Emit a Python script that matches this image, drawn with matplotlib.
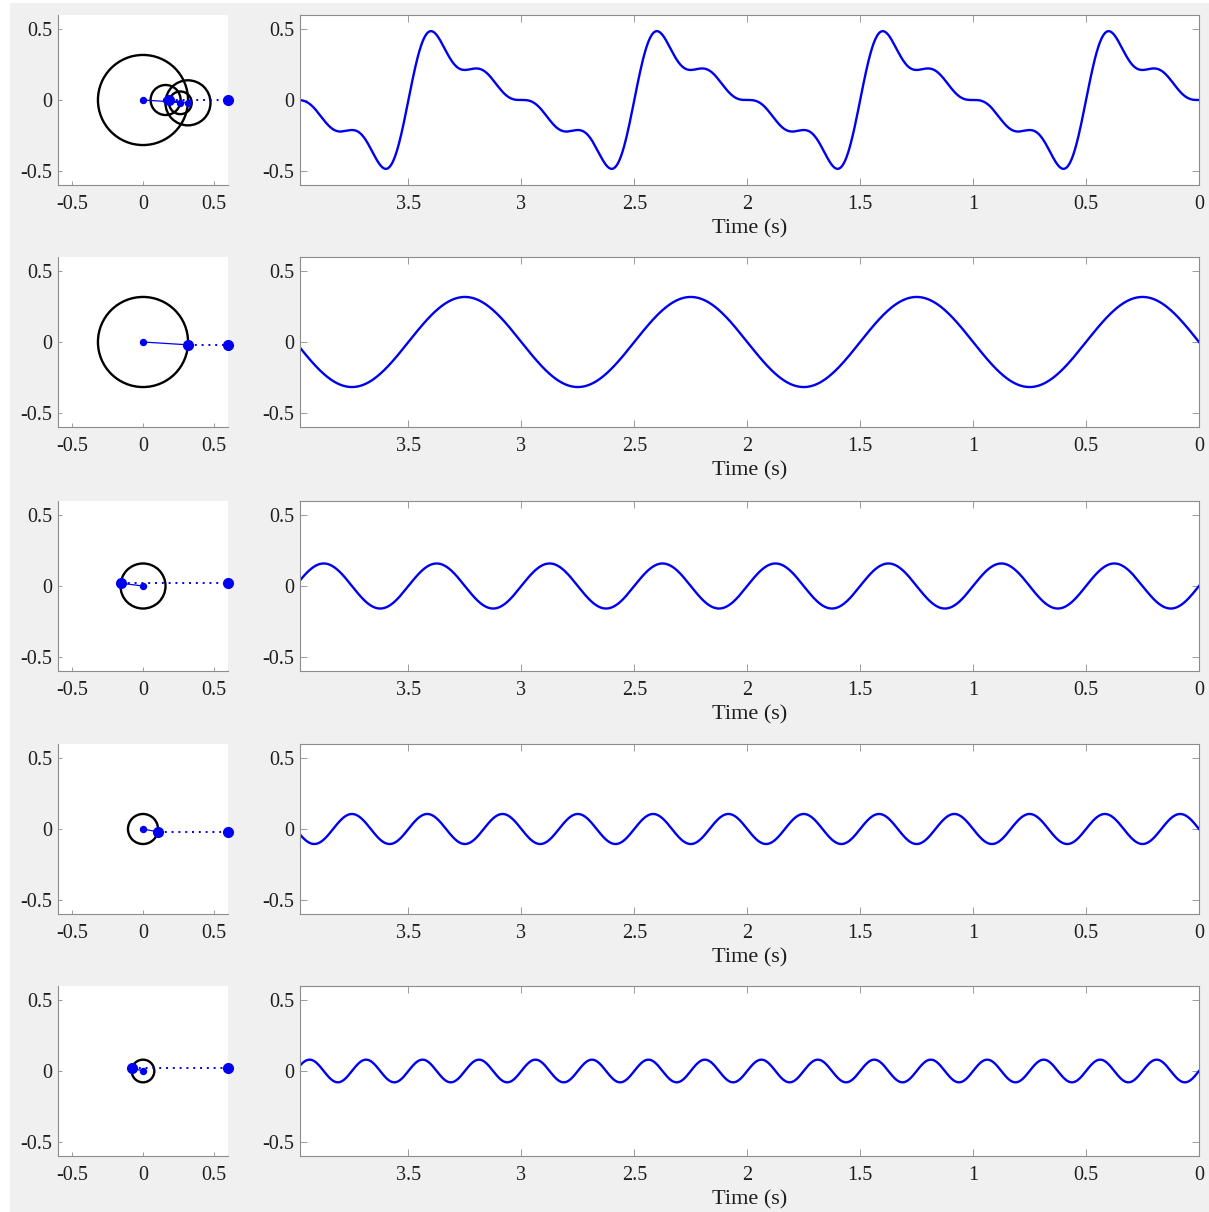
import numpy as np
import matplotlib
matplotlib.use("Agg")
import matplotlib.pyplot as plt
from matplotlib.patches import Circle, Rectangle

# ---------------- data ----------------
harmonic_numbers = [1, 2, 3, 4]            # frequency of each component (Hz)
amplitudes = [0.318, 0.159, 0.106, 0.080]  # radius of each circle / wave amplitude
signs = [1, -1, 1, -1]                     # phase sign of each component
snapshot_time = -0.01                      # instant drawn in the circle panels
time_range = [0.0, 3.98]                   # time axis span (s), shown reversed
time_ticks = [0, 0.5, 1, 1.5, 2, 2.5, 3, 3.5]
time_tick_labels = ["0", "0.5", "1", "1.5", "2", "2.5", "3", "3.5"]
value_ticks = [-0.5, 0, 0.5]
value_tick_labels = ["-0.5", "0", "0.5"]
probe_x = 0.6                              # x where the output point sits

# ---------------- style ----------------
W, H = 1209, 1212
DPI = 100
BG = "#f0f0f0"
SPINE = "#8c8c8c"
TXT = "#1e1e1e"
BLUE = "#0000f0"
plt.rcParams["font.family"] = ["Liberation Serif", "DejaVu Serif"]

fig = plt.figure(figsize=(W / DPI, H / DPI), dpi=DPI, facecolor="white")
fig.patches.append(Rectangle((10 / W, 0), 1 - 10 / W, 1 - 3 / H,
                             transform=fig.transFigure, facecolor=BG,
                             edgecolor="none", zorder=-10))

tops = [15, 257, 501, 744, 986]
AX_H = 170
LEFT_X, LEFT_W = 58, 170
RIGHT_X, RIGHT_W = 300, 899
TICK_FS = 14.5
LABEL_FS = 16

t = np.linspace(time_range[0], time_range[1], 2000)


def phasors(idx_list, tt):
    pts = [(0.0, 0.0)]
    x, y = 0.0, 0.0
    for i in idx_list:
        ang = 2 * np.pi * harmonic_numbers[i] * tt
        x += signs[i] * amplitudes[i] * np.cos(ang)
        y += signs[i] * amplitudes[i] * np.sin(ang)
        pts.append((x, y))
    return pts


rows = [list(range(len(amplitudes)))] + [[i] for i in range(len(amplitudes))]

for r, comps in enumerate(rows):
    top = tops[r]
    bottom = 1 - (top + AX_H) / H
    # ---------- left: circles ----------
    axl = fig.add_axes([LEFT_X / W, bottom, LEFT_W / W, AX_H / H])
    axl.set_facecolor("white")
    pts = phasors(comps, snapshot_time)
    for k, i in enumerate(comps):
        c = Circle(pts[k], amplitudes[i], fill=False, edgecolor="black",
                   lw=1.7, zorder=2)
        axl.add_patch(c)
    xs = [p[0] for p in pts]
    ys = [p[1] for p in pts]
    axl.plot(xs, ys, color=BLUE, lw=0.9, zorder=3)
    axl.plot(xs[:-1], ys[:-1], "o", color=BLUE, ms=4.3, mec=BLUE, zorder=4)
    axl.plot([xs[-1], probe_x], [ys[-1], ys[-1]], color=BLUE, lw=1.4,
             linestyle=(0, (1, 2.5)), zorder=3)
    axl.plot([xs[-1], probe_x], [ys[-1], ys[-1]], "o", color=BLUE,
             ms=7.0, mec=BLUE, zorder=5, clip_on=False)
    axl.set_xlim(-0.6, 0.6)
    axl.set_ylim(-0.6, 0.6)
    axl.set_xticks(value_ticks)
    axl.set_xticklabels(value_tick_labels)
    axl.set_yticks(value_ticks)
    axl.set_yticklabels(value_tick_labels)
    for s in ["top", "right"]:
        axl.spines[s].set_visible(False)
    for s in ["left", "bottom"]:
        axl.spines[s].set_color(SPINE)
        axl.spines[s].set_linewidth(0.8)
    axl.tick_params(direction="in", length=3, width=0.6, color=SPINE,
                    labelsize=TICK_FS, labelcolor=TXT)
    axl.tick_params(axis="x", pad=7)
    axl.tick_params(axis="y", pad=4)

    # ---------- right: time signal ----------
    axr = fig.add_axes([RIGHT_X / W, bottom, RIGHT_W / W, AX_H / H])
    axr.set_facecolor("white")
    y = np.zeros_like(t)
    for i in comps:
        y += signs[i] * amplitudes[i] * np.sin(2 * np.pi * harmonic_numbers[i] * t)
    axr.plot(t, y, color=BLUE, lw=1.7)
    axr.set_xlim(time_range[1], time_range[0])
    axr.set_ylim(-0.6, 0.6)
    axr.set_xticks(time_ticks)
    axr.set_xticklabels(time_tick_labels)
    axr.set_yticks(value_ticks)
    axr.set_yticklabels(value_tick_labels)
    for s in axr.spines.values():
        s.set_color(SPINE)
        s.set_linewidth(0.8)
    axr.tick_params(direction="in", length=5, width=0.6, color=SPINE,
                    labelsize=TICK_FS, labelcolor=TXT,
                    top=True, right=True)
    axr.tick_params(axis="x", pad=7)
    axr.tick_params(axis="y", pad=4)
    axr.set_xlabel("Time (s)", fontsize=LABEL_FS, color=TXT, labelpad=4)

fig.savefig("out.png", dpi=DPI, facecolor=fig.get_facecolor())
